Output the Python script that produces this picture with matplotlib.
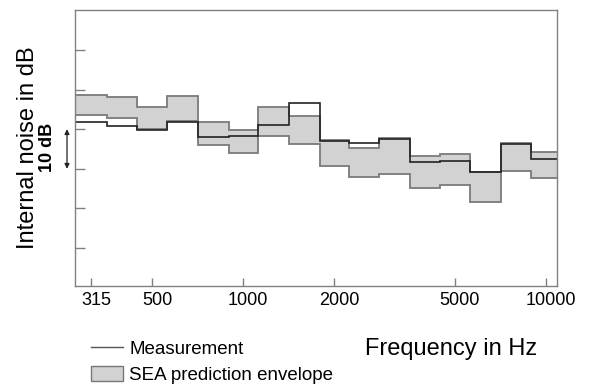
import matplotlib
matplotlib.use("Agg")
import matplotlib.pyplot as plt
import matplotlib.transforms as mtransforms
from matplotlib.lines import Line2D
from matplotlib.patches import Patch
from matplotlib.ticker import FixedLocator, NullLocator
import numpy as np

plt.rcParams['font.family'] = ['Liberation Sans', 'DejaVu Sans']

# third octave band centres (Hz)
bands = [315, 400, 500, 630, 800, 1000, 1250, 1600, 2000, 2500, 3150, 4000, 5000, 6300, 8000, 10000]
# measured internal noise (dB, arbitrary reference)
measurement = [41.7, 40.7, 39.9, 41.9, 38.1, 38.2, 41.1, 46.6, 37.0, 36.5, 37.5, 31.6, 31.9, 29.1, 36.3, 32.4]
# SEA prediction envelope, upper and lower limits (dB)
sea_upper = [48.6, 48.1, 45.5, 48.5, 41.7, 39.8, 45.6, 43.3, 37.3, 35.2, 37.65, 33.2, 33.7, 29.2, 36.4, 34.2]
sea_lower = [43.6, 42.9, 40.0, 42.0, 36.1, 33.9, 38.4, 36.3, 30.7, 27.9, 28.6, 25.15, 25.9, 21.7, 29.4, 27.6]

xtick_vals = [315, 500, 1000, 2000, 5000, 10000]
xtick_labels = ["315", "500", "1000", "2000", "5000", "10000"]

#band edges: geometric mean between neighbours, outer ones at 1/6 octave
fc = np.array(bands, dtype=float)
edges = np.sqrt(fc[:-1] * fc[1:])
edges = np.concatenate([[fc[0] / 2 ** (1 / 6)], edges, [fc[-1] * 2 ** (1 / 6)]])

fig = plt.figure(figsize=(5.9, 3.89), dpi=100)
ax = fig.add_axes([75 / 590, 1 - 286 / 389, 482 / 590, 276 / 389])

fill_col = '#d2d2d2'
edge_col = '#7a7a7a'
meas_col = '#222222'

# envelope (filled) + its outline
ax.stairs(sea_upper, edges, baseline=sea_lower, fill=True, color=fill_col, lw=0)
ax.stairs(sea_upper, edges, baseline=None, color=edge_col, lw=1.3)
ax.stairs(sea_lower, edges, baseline=None, color=edge_col, lw=1.3)
# measurement
ax.stairs(measurement, edges, baseline=None, color=meas_col, lw=1.2)

ax.set_xscale('log')
ax.set_xlim(278, 10900)
ax.set_ylim(0.4, 70.1)
ax.xaxis.set_major_locator(FixedLocator(xtick_vals))
ax.xaxis.set_minor_locator(NullLocator())
ax.set_xticklabels(xtick_labels)
ax.set_yticks([10, 20, 30, 40, 50, 60])
ax.set_yticklabels([])

for s in ax.spines.values():
    s.set_color('#808080')
    s.set_linewidth(1.0)
ax.tick_params(axis='x', direction='in', length=5.5, width=1, color='#808080', pad=4, labelsize=13)
ax.tick_params(axis='y', direction='in', length=7.2, width=1, color='#808080')

# labels sit a bit right of their ticks in the original
shift = mtransforms.ScaledTranslation(5 / 100, 0, fig.dpi_scale_trans)
for lab in ax.get_xticklabels():
    lab.set_transform(lab.get_transform() + shift)

ax.set_ylabel("Internal noise in dB", fontsize=17)
ax.yaxis.set_label_coords(-0.075, 0.5)
ax.set_xlabel("Frequency in Hz", fontsize=17)
ax.xaxis.set_label_coords(0.781, -0.19)

#10 dB scale arrow outside left of the axis
trans = ax.get_yaxis_transform()
ax.annotate('', xy=(-0.0166, 40), xytext=(-0.0166, 30), xycoords=trans, textcoords=trans,
            arrowprops=dict(arrowstyle='<|-|>', color='#222222', lw=0.9, mutation_scale=7,
                            shrinkA=0, shrinkB=0), annotation_clip=False)
ax.text(-0.058, 35.3, "10 dB", transform=trans, rotation=90, ha='center', va='center',
        fontsize=13, fontweight='bold', clip_on=False)

handles = [Line2D([], [], color='#555555', lw=1.0),
           Patch(facecolor=fill_col, edgecolor='#777777', lw=1.0)]
fig.legend(handles, ["Measurement", "SEA prediction envelope"], loc='upper left',
           bbox_to_anchor=(91 / 590, 1 - 340 / 389), frameon=False, fontsize=13.5,
           handlelength=1.69, handleheight=0.9, handletextpad=0.36, labelspacing=0.4,
           borderpad=0, borderaxespad=0)

fig.savefig('out.png', dpi=100)
